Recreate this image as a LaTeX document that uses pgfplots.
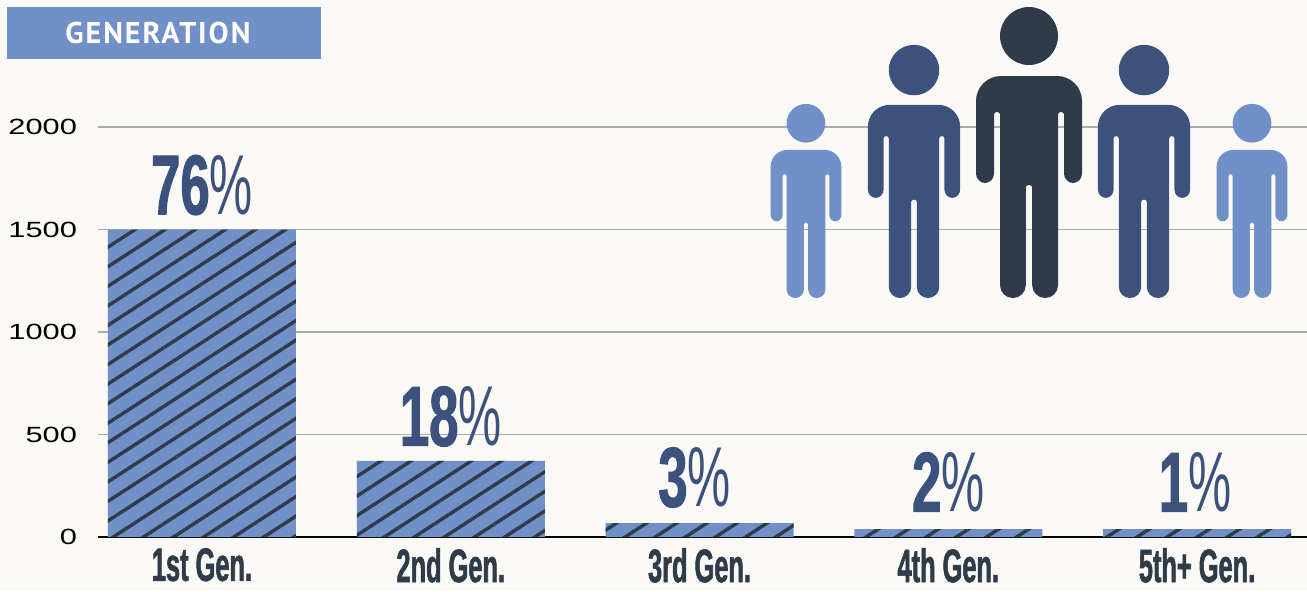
\documentclass[border=0pt]{standalone}
\usepackage{fontspec}
\usepackage{pgfplots}
\pgfplotsset{compat=1.18}
\usetikzlibrary{patterns.meta}
\setmainfont{Liberation Sans}
\newfontfamily\tickfont[FakeStretch=1.4]{Liberation Sans}
\newfontfamily\numfont[FakeStretch=0.62,FakeBold=1.2]{Liberation Sans Bold}
\newfontfamily\pctfont[FakeStretch=0.57]{Liberation Sans}
\newfontfamily\genfont[FakeStretch=0.54,FakeBold=1.2]{Liberation Sans Bold}
\newfontfamily\bannerfont[LetterSpace=6.5]{PT Sans Bold}
\definecolor{bgc}{HTML}{FAF9F6}
\definecolor{lightb}{HTML}{7290C8}
\definecolor{midb}{HTML}{3C527C}
\definecolor{darkb}{HTML}{2F3B48}
\definecolor{gridc}{HTML}{ABABAB}
\protected\def\biglab#1{{\numfont\fontsize{42.5}{42.5}\selectfont #1}{\pctfont\fontsize{42.5}{42.5}\selectfont\%}}
\protected\def\labA{\biglab{76}}
\protected\def\labB{\biglab{18}}
\protected\def\labC{\raisebox{1pt}{\biglab{3}}\kern5pt}
\protected\def\labD{\raisebox{1.5pt}{\biglab{2}}}
\protected\def\labE{\raisebox{1.5pt}{\biglab{1}}\kern2pt}
% pictogram: centre x (px), scale, colour; the feet stand at y=298 px of the reference
\newcommand{\person}[3]{%
\begin{scope}[shift={({#1*0.5pt},{(591-298)*0.5pt})},x=#2*0.5pt,y=#2*0.5pt]
\pgfmathsetmacro{\ra}{12.8*#2*0.5}
\pgfmathsetmacro{\rb}{2.6*#2*0.5}
\pgfmathsetmacro{\rc}{9.4*#2*0.5}
\pgfmathsetmacro{\rd}{25*#2*0.5}
\fill[#3] (0,262) circle[radius=29];
\fill[#3] (-29,60) [rounded corners=\rb pt] -- (-29,186) -- (-35,186) -- (-35,150)
 [rounded corners=\rc pt] -- (-35,115) -- (-53,115) -- (-53,170)
 [rounded corners=\rd pt] -- (-53,222) -- (53,222) -- (53,170)
 [rounded corners=\rc pt] -- (53,115) -- (35,115) -- (35,150)
 [rounded corners=\rb pt] -- (35,186) -- (29,186) -- (29,120)
 [rounded corners=\ra pt] -- (29,0) -- (3.2,0) -- (3.2,60)
 [rounded corners=\rb pt] -- (3.2,113) -- (-3.2,113) -- (-3.2,60)
 [rounded corners=\ra pt] -- (-3.2,0) -- (-29,0) -- cycle;
\end{scope}}
\begin{document}
\begin{tikzpicture}
\useasboundingbox (0,0) rectangle (653.5pt,295.5pt);
\fill[bgc] (0,0) rectangle (653.5pt,295.5pt);
\begin{axis}[
  at={(49pt,27pt)}, anchor=south west,
  scale only axis, width=604.5pt, height=205pt,
  xmin=-0.418, xmax=4.442, ymin=0, ymax=2000,
  clip=false,
  ybar, bar width=94pt,
  axis x line*=bottom, axis y line*=left,
  y axis line style={draw=none},
  x axis line style={draw=black,line width=1.1pt,-},
  major tick length=0pt,
  xtick={0,1,2,3,4},
  xticklabels={1st Gen.,2nd Gen.,3rd Gen.,4th Gen.,5th+ Gen.},
  xticklabel style={font=\genfont\fontsize{23.5}{23.5}\selectfont,text=darkb,yshift=-2pt},
  ytick={0,500,1000,1500,2000},
  yticklabel style={font=\tickfont\fontsize{11}{11}\selectfont,text=black,xshift=-7pt},
  /pgf/number format/assume math mode=true,
  /pgf/number format/1000 sep={},
  ymajorgrids, grid style={draw=gridc,line width=0.55pt},
  point meta=explicit symbolic,
  nodes near coords={\pgfplotspointmeta},
  nodes near coords style={anchor=south,inner sep=0pt,text=midb,yshift=7pt},
]
\addplot[fill=lightb,draw=none,
  postaction={pattern={Lines[angle=33,distance=8.2pt,line width=1.7pt]},pattern color=darkb}]
  coordinates {(0,1500)[\labA] (1,371)[\labB] (2,68)[\labC] (3,39)[\labD] (4,39)[\labE]};
\end{axis}
\fill[lightb] (3.5pt,266pt) rectangle (160.5pt,292pt);
\node[anchor=center,inner sep=0pt,text=white,font=\bannerfont\fontsize{15}{15}\selectfont] at (79pt,279.2pt) {GENERATION};
\person{806}{0.667}{lightb}
\person{914}{0.87}{midb}
\person{1029}{1}{darkb}
\person{1144}{0.87}{midb}
\person{1252}{0.667}{lightb}
\end{tikzpicture}
\end{document}
